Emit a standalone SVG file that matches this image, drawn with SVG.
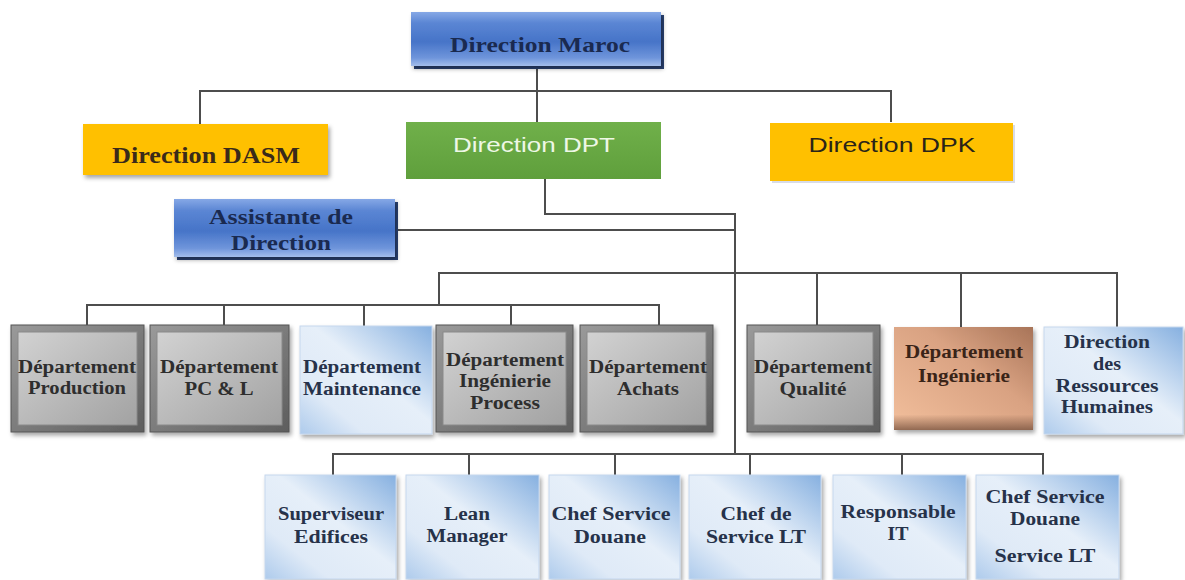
<svg xmlns="http://www.w3.org/2000/svg" width="1185" height="580" viewBox="0 0 1185 580">
<defs>
<linearGradient id="gBlue" x1="0" y1="0" x2="0" y2="1">
<stop offset="0" stop-color="#86a8e6"/><stop offset="0.2" stop-color="#5b86d4"/><stop offset="0.55" stop-color="#4674c8"/><stop offset="0.85" stop-color="#6f95db"/><stop offset="1" stop-color="#a3bdeb"/>
</linearGradient>
<linearGradient id="gLight" x1="1" y1="0" x2="0" y2="1">
<stop offset="0" stop-color="#86b0e0"/><stop offset="0.45" stop-color="#e6eff9"/><stop offset="0.75" stop-color="#dfeaf7"/><stop offset="1" stop-color="#aecbec"/>
</linearGradient>
<linearGradient id="gBrown" x1="1" y1="0" x2="0" y2="1">
<stop offset="0" stop-color="#a87458"/><stop offset="0.4" stop-color="#d9a282"/><stop offset="1" stop-color="#f2bf9c"/>
</linearGradient>
<linearGradient id="gBrownBot" x1="0" y1="0" x2="0" y2="1">
<stop offset="0.85" stop-color="#7a5440" stop-opacity="0"/><stop offset="1" stop-color="#7a5440" stop-opacity="0.8"/>
</linearGradient>
<linearGradient id="gGrayIn" x1="0" y1="0" x2="1" y2="1">
<stop offset="0" stop-color="#d2d2d2"/><stop offset="1" stop-color="#a2a2a2"/>
</linearGradient>
<linearGradient id="gGrayOut" x1="0" y1="0" x2="1" y2="1">
<stop offset="0" stop-color="#9a9a9a"/><stop offset="1" stop-color="#5e5e5e"/>
</linearGradient>
<linearGradient id="gGreen" x1="0" y1="0" x2="0" y2="1">
<stop offset="0" stop-color="#70b04a"/><stop offset="1" stop-color="#5f9f3c"/>
</linearGradient>
<filter id="sh" x="-10%" y="-10%" width="125%" height="130%">
<feDropShadow dx="2" dy="3" stdDeviation="2" flood-color="#000" flood-opacity="0.35"/>
</filter>
<style>
.ln{fill:none;stroke:#4d4d4d;stroke-width:2}
.t{font-family:"Liberation Serif","Times New Roman",serif;font-weight:bold;text-anchor:middle}
.s{font-family:"Liberation Sans",Arial,sans-serif;text-anchor:middle}
.d{font-size:18px;fill:#2e2e2e}
.b{font-size:18px;fill:#26324a}
.blue{fill:url(#gBlue);filter:url(#sh)}
.light{fill:url(#gLight);stroke:#c5d7ee;stroke-width:1;filter:url(#sh)}
.gout{fill:url(#gGrayOut);stroke:#555;stroke-width:1;filter:url(#sh)}
.gin{fill:url(#gGrayIn);stroke:#8a8a8a;stroke-width:1}
</style>
</defs>
<rect width="1185" height="580" fill="#ffffff"/>

<g id="connectors">
<path class="ln" d="M200 124 V91 H891 V122"/>
<path class="ln" d="M537 67 V122"/>
<path class="ln" d="M545 179 V214 H735 V454"/>
<path class="ln" d="M396 230 H735"/>
<path class="ln" d="M439 305 V273 H1117 V327"/>
<path class="ln" d="M817 273 V325"/>
<path class="ln" d="M961 273 V327"/>
<path class="ln" d="M87 325 V305 H659 V325"/>
<path class="ln" d="M224 305 V325"/>
<path class="ln" d="M364 305 V326"/>
<path class="ln" d="M511 305 V325"/>
<path class="ln" d="M333 475 V454 H1043 V475"/>
<path class="ln" d="M469 454 V475"/>
<path class="ln" d="M615 454 V475"/>
<path class="ln" d="M750 454 V475"/>
<path class="ln" d="M902 454 V475"/>
</g>

<g id="direction-maroc">
<rect x="414" y="15" width="250" height="54" fill="#2b4374"/>
<rect class="blue" x="411" y="12" width="250" height="54"/>
<text class="t" x="540" y="52" font-size="22" fill="#1a2a50" textLength="180" lengthAdjust="spacingAndGlyphs">Direction Maroc</text>
</g>

<g id="direction-dasm">
<rect x="83" y="124" width="245" height="51" fill="#ffc000" filter="url(#sh)"/>
<text class="t" x="206" y="163" font-size="23" fill="#3a2a1a" textLength="188" lengthAdjust="spacingAndGlyphs">Direction DASM</text>
</g>

<g id="direction-dpt">
<rect x="406" y="122" width="255" height="57" fill="url(#gGreen)"/>
<text class="s" x="534" y="152" font-size="21" fill="#eef7e6" textLength="162" lengthAdjust="spacingAndGlyphs">Direction DPT</text>
</g>

<g id="direction-dpk">
<rect x="772" y="125" width="243" height="58" fill="#d8dce8"/>
<rect x="770" y="123" width="243" height="58" fill="#ffc000"/>
<text class="s" x="892" y="152" font-size="21" fill="#2a2418" textLength="167" lengthAdjust="spacingAndGlyphs">Direction DPK</text>
</g>

<g id="assistante-direction">
<rect x="177" y="202" width="221" height="58" fill="#2b4374"/>
<rect class="blue" x="174" y="199" width="221" height="58"/>
<text class="t" x="281" y="224" font-size="20" fill="#1a2a50" textLength="144" lengthAdjust="spacingAndGlyphs">Assistante de</text>
<text class="t" x="281" y="250" font-size="20" fill="#1a2a50" textLength="100" lengthAdjust="spacingAndGlyphs">Direction</text>
</g>

<g id="dept-production">
<rect class="gout" x="11" y="325" width="133" height="107"/>
<rect class="gin" x="18" y="332" width="119" height="93"/>
<text class="t d" x="77" y="373" textLength="118" lengthAdjust="spacingAndGlyphs">Département</text>
<text class="t d" x="77" y="394" textLength="98" lengthAdjust="spacingAndGlyphs">Production</text>
</g>

<g id="dept-pcl">
<rect class="gout" x="150" y="325" width="139" height="107"/>
<rect class="gin" x="157" y="332" width="125" height="93"/>
<text class="t d" x="219" y="373" textLength="118" lengthAdjust="spacingAndGlyphs">Département</text>
<text class="t d" x="219" y="395" textLength="69" lengthAdjust="spacingAndGlyphs">PC &amp; L</text>
</g>

<g id="dept-maintenance">
<rect class="light" x="300" y="326" width="132" height="108"/>
<text class="t b" x="362" y="373" textLength="118" lengthAdjust="spacingAndGlyphs">Département</text>
<text class="t b" x="362" y="395" textLength="118" lengthAdjust="spacingAndGlyphs">Maintenance</text>
</g>

<g id="dept-ingenierie-process">
<rect class="gout" x="436" y="325" width="137" height="107"/>
<rect class="gin" x="443" y="332" width="123" height="93"/>
<text class="t d" x="505" y="366" textLength="118" lengthAdjust="spacingAndGlyphs">Département</text>
<text class="t d" x="505" y="387" textLength="92" lengthAdjust="spacingAndGlyphs">Ingénierie</text>
<text class="t d" x="505" y="409" textLength="70" lengthAdjust="spacingAndGlyphs">Process</text>
</g>

<g id="dept-achats">
<rect class="gout" x="580" y="325" width="133" height="107"/>
<rect class="gin" x="587" y="332" width="119" height="93"/>
<text class="t d" x="648" y="373" textLength="118" lengthAdjust="spacingAndGlyphs">Département</text>
<text class="t d" x="648" y="395" textLength="62" lengthAdjust="spacingAndGlyphs">Achats</text>
</g>

<g id="dept-qualite">
<rect class="gout" x="747" y="325" width="133" height="107"/>
<rect class="gin" x="754" y="332" width="119" height="93"/>
<text class="t d" x="813" y="373" textLength="118" lengthAdjust="spacingAndGlyphs">Département</text>
<text class="t d" x="813" y="395" textLength="67" lengthAdjust="spacingAndGlyphs">Qualité</text>
</g>

<g id="dept-ingenierie">
<rect x="894" y="327" width="139" height="103" fill="url(#gBrown)" filter="url(#sh)"/>
<rect x="894" y="327" width="139" height="103" fill="url(#gBrownBot)"/>
<text class="t" x="964" y="358" font-size="18" fill="#3a2418" textLength="118" lengthAdjust="spacingAndGlyphs">Département</text>
<text class="t" x="964" y="382" font-size="18" fill="#3a2418" textLength="92" lengthAdjust="spacingAndGlyphs">Ingénierie</text>
</g>

<g id="direction-rh">
<rect class="light" x="1044" y="327" width="139" height="107"/>
<text class="t b" x="1107" y="348" textLength="86" lengthAdjust="spacingAndGlyphs">Direction</text>
<text class="t b" x="1107" y="370" textLength="28" lengthAdjust="spacingAndGlyphs">des</text>
<text class="t b" x="1107" y="392" textLength="103" lengthAdjust="spacingAndGlyphs">Ressources</text>
<text class="t b" x="1107" y="413" textLength="92" lengthAdjust="spacingAndGlyphs">Humaines</text>
</g>

<g id="superviseur-edifices">
<rect class="light" x="265" y="475" width="131" height="104"/>
<text class="t b" x="331" y="520" textLength="106" lengthAdjust="spacingAndGlyphs">Superviseur</text>
<text class="t b" x="331" y="543" textLength="74" lengthAdjust="spacingAndGlyphs">Edifices</text>
</g>

<g id="lean-manager">
<rect class="light" x="406" y="475" width="133" height="104"/>
<text class="t b" x="467" y="520" textLength="46" lengthAdjust="spacingAndGlyphs">Lean</text>
<text class="t b" x="467" y="542" textLength="81" lengthAdjust="spacingAndGlyphs">Manager</text>
</g>

<g id="chef-service-douane">
<rect class="light" x="549" y="475" width="131" height="104"/>
<text class="t b" x="611" y="520" textLength="119" lengthAdjust="spacingAndGlyphs">Chef Service</text>
<text class="t b" x="610" y="543" textLength="72" lengthAdjust="spacingAndGlyphs">Douane</text>
</g>

<g id="chef-service-lt">
<rect class="light" x="689" y="475" width="132" height="104"/>
<text class="t b" x="756" y="520" textLength="71" lengthAdjust="spacingAndGlyphs">Chef de</text>
<text class="t b" x="756" y="543" textLength="100" lengthAdjust="spacingAndGlyphs">Service LT</text>
</g>

<g id="responsable-it">
<rect class="light" x="833" y="475" width="133" height="104"/>
<text class="t b" x="898" y="518" textLength="115" lengthAdjust="spacingAndGlyphs">Responsable</text>
<text class="t b" x="898" y="540" textLength="21" lengthAdjust="spacingAndGlyphs">IT</text>
</g>

<g id="chef-service-douane-lt">
<rect class="light" x="976" y="475" width="143" height="104"/>
<text class="t b" x="1045" y="503" textLength="119" lengthAdjust="spacingAndGlyphs">Chef Service</text>
<text class="t b" x="1045" y="525" textLength="70" lengthAdjust="spacingAndGlyphs">Douane</text>
<text class="t b" x="1045" y="562" textLength="101" lengthAdjust="spacingAndGlyphs">Service LT</text>
</g>
</svg>
